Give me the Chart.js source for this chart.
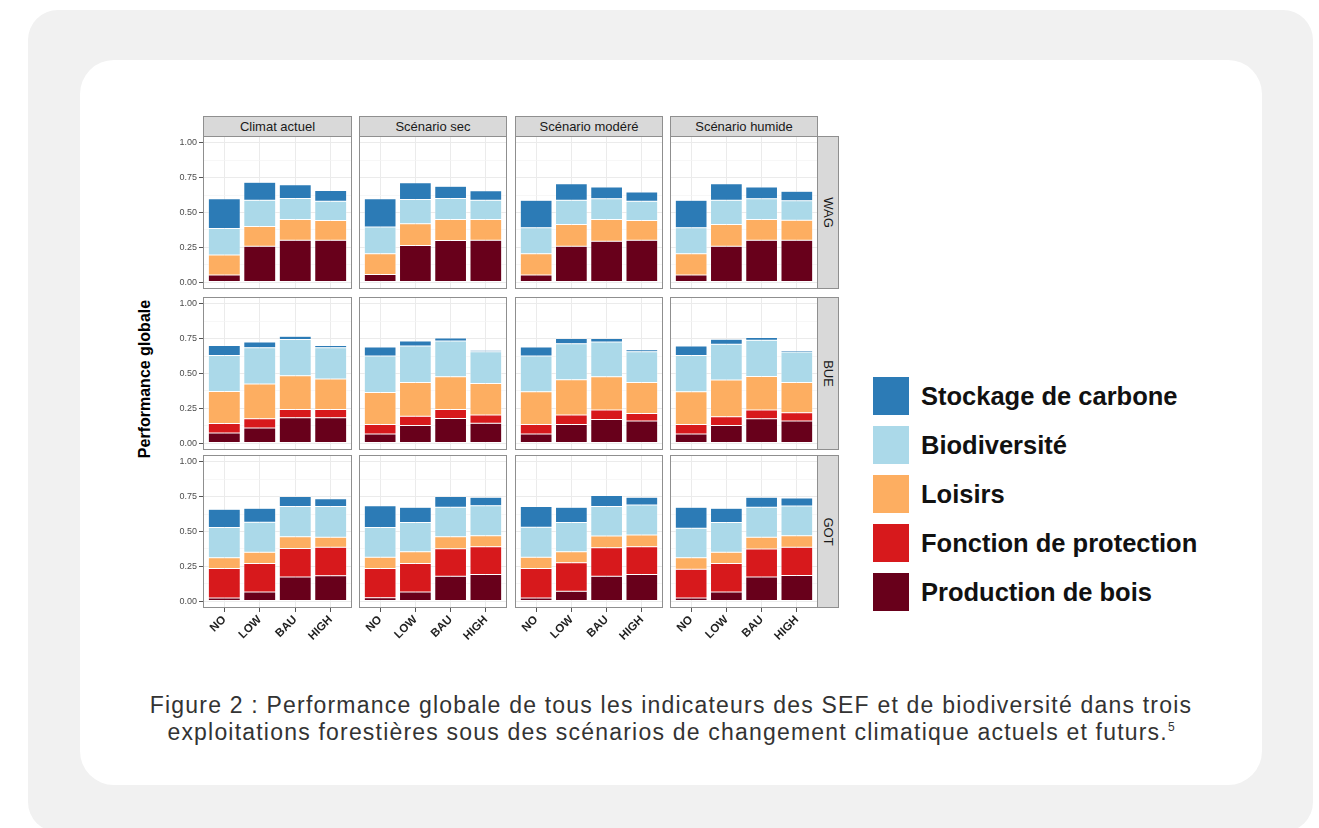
<!DOCTYPE html>
<html lang="fr">
<head>
<meta charset="utf-8">
<script src="https://cdn.jsdelivr.net/npm/chart.js@4.4.1/dist/chart.umd.min.js"></script>
<style>
  html, body { margin: 0; padding: 0; background: #ffffff; width: 1319px; height: 828px; overflow: hidden;
    font-family: "Liberation Sans", Arial, sans-serif; }
  #outer { position: absolute; left: 28px; top: 10px; width: 1285px; height: 822px; background: #f1f1f1; border-radius: 30px; }
  #card { position: absolute; left: 80px; top: 60px; width: 1182px; height: 725px; background: #ffffff; border-radius: 34px; }
  .strip { position: absolute; background: #d9d9d9; border: 1px solid #8f8f8f; box-sizing: border-box;
    color: #1a1a1a; font-size: 13px; display: flex; align-items: center; justify-content: center; white-space: nowrap; }
  .strip.side span { display: inline-block; transform: rotate(90deg); }
  canvas { position: absolute; }
  #ytitle { position: absolute; left: 145px; top: 379px; transform: translate(-50%, -50%) rotate(-90deg);
    font-weight: bold; font-size: 16px; color: #000; white-space: nowrap; }
  .key { position: absolute; left: 873px; width: 36px; height: 38px; }
  .keylab { position: absolute; left: 921px; font-weight: bold; font-size: 25.5px; color: #111; white-space: nowrap;
    transform: translateY(-50%); }
  #caption { position: absolute; left: 80px; width: 1182px; top: 692px; text-align: center; font-size: 23px;
    letter-spacing: 1.2px; line-height: 27px; color: #333; }
  #caption sup { font-size: 12px; vertical-align: 9px; line-height: 0; letter-spacing: 0; }
</style>
</head>
<body>
<div id="outer"></div>
<div id="card"></div>
<div id="ytitle">Performance globale</div>
<div id="caption">Figure 2 : Performance globale de tous les indicateurs des SEF et de biodiversité dans trois<br>exploitations forestières sous des scénarios de changement climatique actuels et futurs.<sup>5</sup></div>

<script>
// Facets
const sites = ['WAG', 'BUE', 'GOT'];
const scenarios = ['Climat actuel', 'Scénario sec', 'Scénario modéré', 'Scénario humide'];
const levels = ['NO', 'LOW', 'BAU', 'HIGH'];
const yTicks = [0, 0.25, 0.5, 0.75, 1];

// Scores per component, indexed [site][scenario][level]
const production = [
  [[0.050, 0.258, 0.300, 0.300], [0.055, 0.263, 0.299, 0.300], [0.050, 0.258, 0.294, 0.300], [0.050, 0.258, 0.300, 0.300]],
  [[0.073, 0.109, 0.182, 0.182], [0.065, 0.126, 0.177, 0.143], [0.065, 0.134, 0.170, 0.158], [0.065, 0.126, 0.174, 0.158]],
  [[0.022, 0.065, 0.173, 0.181], [0.024, 0.065, 0.178, 0.190], [0.022, 0.070, 0.178, 0.190], [0.022, 0.065, 0.173, 0.183]]
];
const protection = [
  [[0, 0, 0, 0], [0, 0, 0, 0], [0, 0, 0, 0], [0, 0, 0, 0]],
  [[0.068, 0.065, 0.060, 0.060], [0.069, 0.066, 0.065, 0.058], [0.069, 0.067, 0.067, 0.055], [0.069, 0.063, 0.063, 0.060]],
  [[0.212, 0.205, 0.205, 0.205], [0.210, 0.205, 0.198, 0.200], [0.212, 0.205, 0.205, 0.200], [0.207, 0.205, 0.201, 0.203]]
];
const loisirs = [
  [[0.144, 0.142, 0.150, 0.143], [0.149, 0.156, 0.151, 0.150], [0.154, 0.156, 0.156, 0.143], [0.154, 0.156, 0.150, 0.145]],
  [[0.229, 0.250, 0.242, 0.218], [0.229, 0.244, 0.235, 0.227], [0.234, 0.254, 0.240, 0.223], [0.234, 0.264, 0.242, 0.218]],
  [[0.077, 0.080, 0.084, 0.072], [0.080, 0.084, 0.086, 0.080], [0.080, 0.079, 0.084, 0.085], [0.082, 0.080, 0.084, 0.084]]
];
const biodiversite = [
  [[0.191, 0.188, 0.150, 0.137], [0.191, 0.174, 0.150, 0.138], [0.186, 0.174, 0.148, 0.137], [0.186, 0.174, 0.148, 0.140]],
  [[0.260, 0.262, 0.260, 0.226], [0.262, 0.261, 0.256, 0.228], [0.257, 0.259, 0.249, 0.220], [0.262, 0.257, 0.260, 0.218]],
  [[0.217, 0.216, 0.217, 0.221], [0.214, 0.210, 0.213, 0.216], [0.216, 0.210, 0.212, 0.216], [0.212, 0.214, 0.217, 0.214]]
];
const carbone = [
  [[0.213, 0.129, 0.099, 0.078], [0.203, 0.120, 0.089, 0.068], [0.198, 0.118, 0.086, 0.068], [0.198, 0.118, 0.086, 0.068]],
  [[0.072, 0.040, 0.024, 0.016], [0.065, 0.036, 0.022, 0.012], [0.065, 0.037, 0.025, 0.015], [0.067, 0.036, 0.019, 0.012]],
  [[0.132, 0.102, 0.072, 0.056], [0.158, 0.111, 0.076, 0.061], [0.149, 0.111, 0.080, 0.056], [0.152, 0.104, 0.072, 0.056]]
];

// Stack order, bottom to top
const series = [
  { name: 'Production de bois',     values: production,   color: '#68001b' },
  { name: 'Fonction de protection', values: protection,   color: '#d7191c' },
  { name: 'Loisirs',                values: loisirs,      color: '#fdae61' },
  { name: 'Biodiversité',           values: biodiversite, color: '#abd9e9' },
  { name: 'Stockage de carbone',    values: carbone,      color: '#2c7bb6' }
];

// Facet grid geometry
const colLeft = [203, 359, 515, 670];
const colWidth = [149, 148, 148, 148];
const rowTop = [136, 297, 455];
const rowHeight = 153;
const yAxisWidth = 43;
const xAxisHeight = 52;
const stripHeight = 20;
const sideStripWidth = 22;

Chart.defaults.font.family = '"Liberation Sans", Arial, sans-serif';

const panelBorder = {
  id: 'panelBorder',
  afterDraw(chart) {
    const { ctx, chartArea: a } = chart;
    ctx.save();
    ctx.strokeStyle = '#8f8f8f';
    ctx.lineWidth = 1;
    ctx.strokeRect(Math.round(a.left) + 0.5, Math.round(a.top) + 0.5, Math.round(a.right - a.left) - 1, Math.round(a.bottom - a.top) - 1);
    ctx.restore();
  }
};

const isMajor = v => yTicks.some(t => Math.abs(t - v) < 1e-9);

function makePanel(r, c) {
  const left = c === 0;
  const bottom = r === sites.length - 1;
  const canvas = document.createElement('canvas');
  const w = colWidth[c] + (left ? yAxisWidth : 0);
  const h = rowHeight + (bottom ? xAxisHeight : 0);
  canvas.width = w; canvas.height = h;
  canvas.style.width = w + 'px'; canvas.style.height = h + 'px';
  canvas.style.left = (colLeft[c] - (left ? yAxisWidth : 0)) + 'px';
  canvas.style.top = rowTop[r] + 'px';
  document.body.appendChild(canvas);

  const datasets = series.map(s => ({
    label: s.name,
    data: s.values[r][c].map((v, i) => ({ x: i + 1, y: v })),
    backgroundColor: s.color,
    borderColor: 'rgba(255,255,255,0.85)',
    borderWidth: 0.5,
    borderSkipped: false,
    stack: 'total',
    barPercentage: 0.9,
    categoryPercentage: 1
  }));

  new Chart(canvas, {
    type: 'bar',
    data: { datasets },
    options: {
      responsive: false,
      animation: false,
      devicePixelRatio: 1,
      layout: { padding: 0, autoPadding: false },
      plugins: { legend: { display: false }, tooltip: { enabled: false } },
      scales: {
        x: {
          type: 'linear',
          offset: false,
          min: 0.4, max: 4.6,
          afterBuildTicks: s => { s.ticks = levels.map((_, i) => ({ value: i + 1 })); },
          afterFit: s => {
            s.height = bottom ? xAxisHeight : 0;
            s.paddingLeft = 0; s.paddingRight = 0;
          },
          border: { display: false },
          grid: { offset: false, color: '#ebebeb', lineWidth: 1, drawTicks: bottom, tickLength: 4, tickColor: '#555' },
          ticks: {
            display: bottom,
            autoSkip: false,
            maxRotation: 45, minRotation: 45,
            padding: 1,
            color: '#222',
            font: { size: 11.5, weight: 'bold' },
            callback: v => levels[v - 1]
          }
        },
        y: {
          type: 'linear',
          stacked: true,
          min: -0.05, max: 1.05,
          afterBuildTicks: s => {
            const t = [];
            for (let k = 0; k <= 8; k++) t.push({ value: k * 0.125 });
            s.ticks = t;
          },
          afterFit: s => {
            s.width = left ? yAxisWidth : 0;
            s.paddingTop = 0; s.paddingBottom = 0;
          },
          border: { display: false },
          grid: {
            color: ctx => isMajor(ctx.tick.value) ? '#ebebeb' : '#f4f4f4',
            lineWidth: ctx => isMajor(ctx.tick.value) ? 1 : 0.7,
            drawTicks: left,
            tickLength: 4,
            tickColor: ctx => isMajor(ctx.tick.value) ? '#555' : 'rgba(0,0,0,0)'
          },
          ticks: {
            display: left,
            autoSkip: false,
            padding: 2,
            color: '#4d4d4d',
            font: { size: 9 },
            callback: v => isMajor(v) ? v.toFixed(2) : ''
          }
        }
      }
    },
    plugins: [panelBorder]
  });
}

// Column strips
scenarios.forEach((name, c) => {
  const d = document.createElement('div');
  d.className = 'strip';
  d.style.left = colLeft[c] + 'px';
  d.style.top = (rowTop[0] - stripHeight) + 'px';
  d.style.width = colWidth[c] + 'px';
  d.style.height = (stripHeight + 1) + 'px';
  d.textContent = name;
  document.body.appendChild(d);
});

// Row strips
sites.forEach((name, r) => {
  const d = document.createElement('div');
  d.className = 'strip side';
  const lastCol = scenarios.length - 1;
  d.style.left = (colLeft[lastCol] + colWidth[lastCol] - 1) + 'px';
  d.style.top = rowTop[r] + 'px';
  d.style.width = sideStripWidth + 'px';
  d.style.height = rowHeight + 'px';
  d.innerHTML = '<span>' + name + '</span>';
  document.body.appendChild(d);
});

sites.forEach((_, r) => scenarios.forEach((_, c) => makePanel(r, c)));

// Legend, top to bottom
const legendTop = 377;
const legendStep = 49;
series.slice().reverse().forEach((s, i) => {
  const y = legendTop + i * legendStep;
  const k = document.createElement('div');
  k.className = 'key';
  k.style.top = y + 'px';
  k.style.background = s.color;
  document.body.appendChild(k);
  const l = document.createElement('div');
  l.className = 'keylab';
  l.style.top = (y + 19) + 'px';
  l.textContent = s.name;
  document.body.appendChild(l);
});
</script>
</body>
</html>
